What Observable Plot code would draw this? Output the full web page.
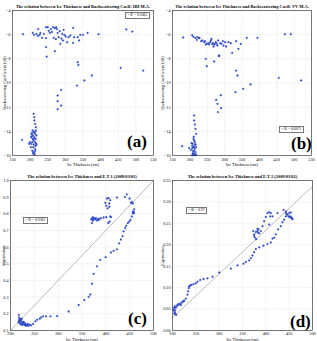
<!DOCTYPE html>
<html>
<head>
<meta charset="utf-8">
<script src="https://cdn.jsdelivr.net/npm/d3@7"></script>
<script src="https://cdn.jsdelivr.net/npm/@observablehq/plot@0.6"></script>
<style>
  html, body { margin: 0; padding: 0; background: #fff; }
  #fig { position: relative; width: 317px; height: 341px; overflow: hidden; background: #fff; font-family: "Liberation Serif", "DejaVu Serif", serif; }
  .panel { position: absolute; }
  .legend { position: absolute; background: #fff; border: 0.6px solid #777; font-size: 3.8px; line-height: 1; white-space: nowrap; padding: 0.8px 1.5px; box-sizing: border-box; color: #000; }
  .legend b { color: #2b46c8; font-weight: normal; margin-right: 1.5px; }
  .letter { position: absolute; font-weight: bold; font-size: 17px; line-height: 1; color: #000; }
</style>
</head>
<body>
<div id="fig"></div>
<script>
// Ice thickness (cm) vs. backscattering coefficient (dB), HH polarisation
const hhPoints = [
  [180,-5.96],[207.5,-5.85],[211,-6.01],[218,-5.93],[222,-6.10],[223,-5.54],[227,-6.01],[229,-5.85],[234,-6.26],[239,-5.93],
  [245,-6.29],[245,-5.38],[250,-5.38],[253,-5.68],[256,-5.85],[259,-5.54],[262,-5.77],[265,-5.38],[267,-6.26],[270,-5.46],
  [273,-6.37],[274,-5.38],[276,-5.54],[278,-5.85],[281,-6.21],[284,-5.71],[286,-6.76],[289,-6.32],[291,-5.93],[293,-6.48],
  [295,-5.60],[297,-6.01],[301,-6.15],[305,-6.62],[309,-6.21],[314,-6.07],[322,-5.43],[322,-6.68],[325,-6.21],[335,-6.21],
  [339,-6.48],[342,-6.01],[350,-6.01],[363,-5.85],[394,-5.96],[473,-5.57],[490,-5.74],
  [245,-7.03],[270,-7.37],[247,-7.81],[335,-8.28],[337,-8.50],[375,-9.38],[354,-9.79],[333,-10.21],[288,-10.57],[278,-11.03],
  [278,-11.50],[288,-11.86],[278,-12.17],[457,-8.74],[521,-8.97],
  [210,-12.55],[212,-12.83],[212,-13.10],[214,-13.38],[216,-13.66],[207,-13.93],[210,-14.07],[214,-14.21],[205,-14.15],[218,-14.34],
  [208,-14.34],[203,-14.48],[212,-14.48],[216,-14.62],[210,-14.76],[206,-14.90],[214,-14.90],[203,-15.03],[210,-15.09],[218,-15.12],
  [197,-15.03],[209,-15.31],[214,-15.45],[206,-15.59],[212,-15.72],[177,-14.70],[216,-13.93],[204,-14.21],[211,-14.62],[199,-14.90],
  [215,-15.59],[208,-15.72],[213,-14.07],[207,-14.62],[215,-15.20],[202,-15.31],[209,-15.85],[213,-15.90],[217,-15.00],[205,-14.40]
];

// Ice thickness (cm) vs. backscattering coefficient (dB), VV polarisation
const vvPoints = [
  [180.7,-6.23],[206.6,-6.04],[210.4,-6.18],[216.2,-6.26],[220,-6.43],[221.9,-6.21],[225.8,-6.26],[227.7,-6.29],[232.5,-6.54],[236.3,-6.48],
  [241.1,-6.62],[244,-6.54],[245.9,-6.81],[248.8,-6.76],[252.6,-6.70],[255.5,-6.81],[258.4,-6.62],[260.3,-6.48],[262.2,-6.34],[264.1,-6.76],
  [266,-6.70],[268,-6.98],[269.9,-6.81],[271.8,-6.76],[274.7,-6.62],[277.6,-6.76],[279.5,-6.90],[281.4,-6.48],[284.3,-7.72],[287.2,-6.70],
  [291,-6.76],[294.8,-6.54],[296.8,-6.90],[301.6,-6.62],[304.4,-6.98],[311.1,-6.62],[317.9,-6.70],[321.7,-7.50],[333.2,-6.54],[339.9,-7.17],
  [346.6,-6.76],[363.9,-6.26],[394.6,-6.26],[473.3,-5.96],[490.5,-5.96],
  [245.9,-8.00],[248.8,-8.61],[269.9,-8.22],[283.2,-7.78],[333.2,-8.97],[337,-9.38],[374.5,-10.12],[353.4,-10.48],[331.3,-10.76],
  [289.1,-11.01],[275.7,-11.39],[279.5,-11.72],[290,-12.08],[281.4,-12.41],[456,-9.57],[520.3,-9.79],
  [212.3,-12.69],[212.3,-13.10],[214.3,-13.43],[216.2,-13.79],[218.1,-14.21],[177.8,-15.23],[198,-15.37],[210.4,-14.62],[212.3,-14.76],
  [214.3,-14.90],[208.5,-15.03],[216.2,-15.09],[206.6,-15.20],[210.4,-15.31],[214.3,-15.45],[202.8,-15.53],[212.3,-15.59],[216.2,-15.72],
  [208.5,-15.81],[210.4,-15.92],[218.1,-15.92],[214.3,-15.98],[206.6,-15.98],[212.3,-15.26],[204.7,-14.98],[218.1,-15.31],
  [211,-14.45],[215,-15.10],[209,-15.65],[213,-15.85],[207,-15.40]
];

// Ice thickness (cm) vs. eigenvalue, E.T 1
const et1Points = [
  [217.4,0.194],[218.1,0.179],[219.5,0.171],[220.9,0.165],[222.3,0.159],[218.8,0.155],[216.7,0.151],[220.9,0.149],[224.4,0.145],[226.5,0.151],
  [227.9,0.139],[229.3,0.135],[231.4,0.131],[233.5,0.135],[234.9,0.131],[236.3,0.139],[225.1,0.135],[230.7,0.143],[222.3,0.135],[219.5,0.143],
  [232.1,0.128],[237.7,0.128],[227.9,0.151],[223.7,0.171],[218.1,0.163],[240.5,0.135],[243.3,0.131],[247.4,0.139],[252.3,0.155],[255.8,0.165],
  [261.4,0.171],[264.2,0.179],[268.4,0.185],[274.7,0.185],[283.7,0.185],[297.7,0.186],[322.1,0.214],[343,0.253],[354.9,0.283],[364,0.302],
  [367.4,0.316],[370.9,0.381],[374.4,0.440],[381.4,0.485],[388.4,0.524],[399.5,0.540],[410.7,0.568],[416.3,0.578],[423.3,0.587],[428.1,0.623],
  [431.6,0.646],[435.1,0.666],[437.2,0.695],[440.7,0.715],[442.8,0.729],[446.3,0.745],[449.1,0.754],[451.9,0.764],[454.7,0.784],[456.8,0.803],
  [458.1,0.813],[459.5,0.827],[458.8,0.807],[456.8,0.813],[458.1,0.803],
  [454.7,0.872],[452.6,0.866],[449.8,0.892],[444.2,0.917],[440,0.902],[423.3,0.898],[409.3,0.882],[407.2,0.862],[405.8,0.894],[402.3,0.892],
  [398.8,0.866],[400.9,0.849],[403.7,0.833],[407.2,0.843],[409.3,0.784],[410.7,0.780],[407.9,0.754],[405.1,0.745],[400.9,0.780],[395.4,0.778],
  [389.8,0.774],[386.3,0.768],[384.9,0.764],[381.4,0.760],[377.9,0.768],[375.8,0.774],[374.4,0.764],[372.3,0.760],[370.9,0.745],[371.6,0.774],
  [369.5,0.768],[373,0.780],[379.3,0.774],[383.5,0.770],[456.8,0.862]
];

// Ice thickness (cm) vs. eigenvalue, E.T 2
const et2Points = [
  [205,0.057],[203.6,0.0532],[202.1,0.0494],[203.6,0.0456],[205,0.0418],[206.4,0.038],[207.9,0.0365],[203.6,0.0395],[205.7,0.0471],[207.1,0.0532],
  [209.3,0.057],[210.7,0.0593],[212.1,0.0608],[214.3,0.0623],[216.4,0.0608],[217.9,0.0593],[219.3,0.0646],[221.4,0.0669],[223.6,0.0684],[225,0.0699],
  [228.6,0.0745],[232.1,0.0837],[233.6,0.0913],[235,0.0989],[235.7,0.1027],[237.9,0.105],[240.7,0.1065],[245,0.108],[250,0.1103],[253.6,0.1141],
  [259.3,0.1179],[266.4,0.1202],[275,0.1217],[285.7,0.1255],[300,0.1354],[325,0.1445],[339.3,0.1521],[352.1,0.156],[357.1,0.1598],[364.3,0.1636],
  [367.9,0.1689],[371.4,0.175],[375,0.1826],[378.6,0.1902],[385.7,0.194],[395,0.1978],[403.6,0.2016],[410.7,0.2054],[414.3,0.2145],[417.9,0.2168],
  [421.4,0.2244],[426.4,0.2359],[432.1,0.2435],[435.7,0.2526],[439.3,0.2587],[442.9,0.2663],[446.4,0.2701],[450,0.2739],[453.6,0.2754],[452.1,0.2663],
  [455,0.2625],[457.1,0.2602],[453.6,0.2648],
  [372.9,0.232],[375,0.2244],[376.4,0.2168],[379.3,0.213],[375,0.2206],[378.6,0.2298],[382.1,0.232],[383.6,0.2282],[385.7,0.2267],[389.3,0.232],
  [392.9,0.2435],[396.4,0.2549],[400,0.2648],[403.6,0.2739],[407.1,0.2762],[410.7,0.2739],[409.3,0.2663],[414.3,0.2663],[407.1,0.2473],[425,0.2739],
  [437.9,0.2815],[442.9,0.2777],[445,0.2716],[448.6,0.2663],[451.4,0.264],[456.4,0.261],[442.9,0.2739],[382.1,0.2374],[384.3,0.2359]
];

// Reference lines drawn across the eigenvalue panels
const et1Line = [[200,0.1],[500,1.0]];
const et2Line = [[200,0.03],[500,0.336]];

// Axis ticks
const sigmaThickTicks = [150,200,250,300,350,400,450,500,550];
const sigmaTicks = [-4,-6,-8,-10,-12,-14,-16];
const eigThickTicks = [200,250,300,350,400,450,500];
const et1Ticks = [0.1,0.2,0.3,0.4,0.5,0.6,0.7,0.8,0.9,1];
const et2Ticks = [0,0.05,0.1,0.15,0.2,0.25,0.3,0.35];

// Panel texts
const titles = [
  "The relation between Ice Thickness and Backscattering Coeff. HH M.A.",
  "The relation between Ice Thickness and Backscattering Coeff. VV M.A.",
  "The relation between Ice Thickness and E.T 1 (2009/03/01)",
  "The relation between Ice Thickness and E.T 2 (2009/03/02)"
];
const rLabels = ["R = 0.5065", "R = 0.6071", "R = 0.9361", "R = 0.97"];
const letters = ["(a)", "(b)", "(c)", "(d)"];

const blue = "#2b46c8";
const fig = document.getElementById("fig");

function panel(o) {
  const chart = Plot.plot({
    width: o.width,
    height: o.height,
    marginLeft: o.ml, marginRight: o.mr, marginTop: o.mt, marginBottom: o.mb,
    style: {fontFamily: "'Liberation Serif', 'DejaVu Serif', serif", fontSize: "4.2px", color: "#000", background: "transparent", overflow: "visible"},
    x: {domain: o.xDomain, ticks: o.xTicks, tickSize: 0, tickPadding: o.xPad, label: "Ice Thickness (cm)", labelAnchor: "center", labelOffset: o.xLabelOffset, labelArrow: "none"},
    y: {domain: o.yDomain, ticks: o.yTicks, tickSize: 0, tickPadding: 2, label: o.yLabel, labelAnchor: "center", labelOffset: o.yLabelOffset, labelArrow: "none"},
    marks: [
      Plot.gridX(o.xTicks, {stroke: "#9a9a9a", strokeOpacity: 0.6, strokeWidth: 0.4, strokeDasharray: "1,1.2"}),
      Plot.gridY(o.yTicks, {stroke: "#9a9a9a", strokeOpacity: 0.6, strokeWidth: 0.4, strokeDasharray: "1,1.2"}),
      o.line ? Plot.line(o.line, {x: d => d[0], y: d => d[1], stroke: "#8c8c8c", strokeWidth: 0.6}) : null,
      Plot.dot(o.points, {x: d => d[0], y: d => d[1], r: 0.9, fill: blue, stroke: blue, strokeWidth: 0.3}),
      Plot.frame({stroke: "#222", strokeWidth: 0.6}),
      Plot.text([o.title], {frameAnchor: "top", dy: -5.5, fontSize: 4.4, fontWeight: "bold", text: d => d})
    ]
  });
  const wrap = document.createElement("div");
  wrap.className = "panel";
  wrap.style.left = o.left + "px";
  wrap.style.top = o.top + "px";
  wrap.appendChild(chart);
  fig.appendChild(wrap);

  const lg = document.createElement("div");
  lg.className = "legend";
  lg.style.left = o.legend[0] + "px";
  lg.style.top = o.legend[1] + "px";
  lg.innerHTML = "<b>•</b>" + o.r;
  fig.appendChild(lg);

  const lt = document.createElement("div");
  lt.className = "letter";
  lt.style.left = o.letter[0] + "px";
  lt.style.top = o.letter[1] + "px";
  lt.textContent = o.letterText;
  fig.appendChild(lt);
}

panel({
  left: 0, top: 0, width: 158, height: 170, ml: 12, mr: 5, mt: 10, mb: 15,
  xDomain: [150, 550], xTicks: sigmaThickTicks, yDomain: [-16, -4], yTicks: sigmaTicks,
  yLabel: "Backscattering Coefficient (dB)", xPad: 2.5, xLabelOffset: 10, yLabelOffset: 9,
  points: hhPoints, title: titles[0], r: rLabels[0], legend: [125, 12], letter: [127, 133], letterText: letters[0]
});
panel({
  left: 157, top: 0, width: 160, height: 170, ml: 15, mr: 6, mt: 10, mb: 15,
  xDomain: [150, 550], xTicks: sigmaThickTicks, yDomain: [-16, -4], yTicks: sigmaTicks,
  yLabel: "Backscattering Coefficient (dB)", xPad: 2.5, xLabelOffset: 10, yLabelOffset: 11,
  points: vvPoints, title: titles[1], r: rLabels[1], legend: [279, 126], letter: [291, 135], letterText: letters[1]
});
panel({
  left: 0, top: 170, width: 158, height: 171, ml: 10, mr: 5, mt: 10, mb: 11,
  xDomain: [200, 500], xTicks: eigThickTicks, yDomain: [0.1, 1], yTicks: et1Ticks,
  yLabel: "Eigenvalues", xPad: 1.5, xLabelOffset: 10.3, yLabelOffset: 8,
  points: et1Points, line: et1Line, title: titles[2], r: rLabels[2], legend: [23, 217], letter: [128, 310], letterText: letters[2]
});
panel({
  left: 157, top: 170, width: 160, height: 171, ml: 15, mr: 5, mt: 10, mb: 11,
  xDomain: [200, 500], xTicks: eigThickTicks, yDomain: [0, 0.35], yTicks: et2Ticks,
  yLabel: "Eigenvalues", xPad: 1.5, xLabelOffset: 10.3, yLabelOffset: 11,
  points: et2Points, line: et2Line, title: titles[3], r: rLabels[3], legend: [186, 207], letter: [290, 313], letterText: letters[3]
});
</script>
</body>
</html>
